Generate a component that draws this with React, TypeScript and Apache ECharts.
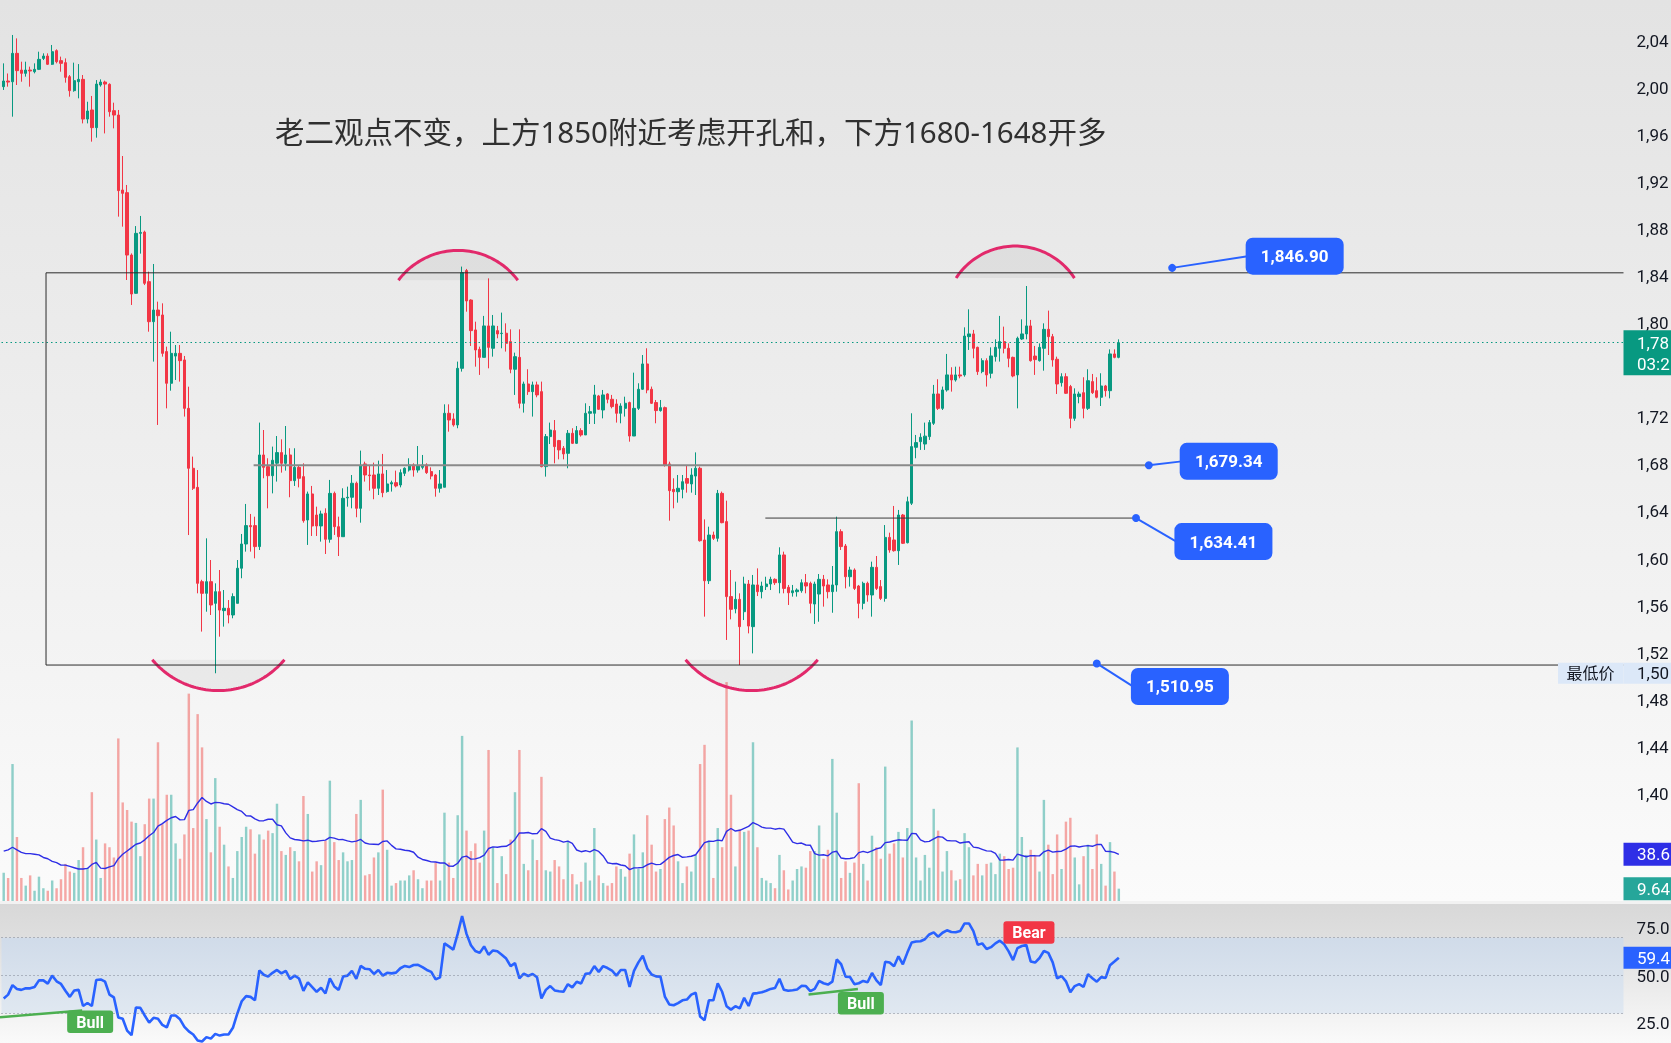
import React, { useEffect, useRef } from 'react';
import * as echarts from 'echarts';

// ---------------- DATA ----------------
const opens = [
  2000.8, 2005.6, 2005.0, 2029.1, 2014.9, 2012.1, 2014.9, 2013.5, 2015.5, 2024.8,
  2026.8, 2019.8, 2031.4, 2022.9, 2021.2, 2009.3, 1997.4, 2005.0, 2007.0, 1973.3,
  1981.0, 1966.0, 2002.2, 2004.7, 2002.8, 1980.4, 1976.7, 1913.0, 1910.8, 1857.8,
  1825.3, 1876.2, 1877.3, 1835.2, 1801.2, 1811.1, 1806.9, 1775.8, 1748.9, 1772.0,
  1774.3, 1768.7, 1727.6, 1676.7, 1660.5, 1580.4, 1570.5, 1580.4, 1562.0, 1571.9,
  1555.8, 1557.8, 1552.1, 1562.0, 1591.8, 1612.4, 1628.0, 1628.0, 1610.2, 1688.0,
  1678.1, 1670.4, 1681.0, 1690.0, 1680.9, 1688.0, 1666.2, 1677.5, 1669.6, 1632.8,
  1654.9, 1637.0, 1627.7, 1638.5, 1616.4, 1655.4, 1627.1, 1618.6, 1651.5, 1652.1,
  1664.0, 1642.7, 1680.4, 1671.0, 1671.0, 1659.7, 1671.9, 1656.9, 1663.4, 1664.5,
  1662.5, 1672.4, 1675.2, 1679.5, 1675.2, 1677.5, 1679.5, 1673.9, 1671.0, 1659.7,
  1660.6, 1723.4, 1718.6, 1713.5, 1761.6, 1844.6, 1819.6, 1794.2, 1777.7, 1770.9,
  1797.6, 1778.6, 1793.6, 1791.1, 1791.4, 1784.3, 1760.8, 1770.9, 1731.9, 1748.3,
  1741.8, 1747.5, 1741.8, 1678.1, 1703.6, 1708.7, 1700.2, 1693.7, 1689.4, 1706.4,
  1697.9, 1708.7, 1705.0, 1723.4, 1723.4, 1738.1, 1726.2, 1739.8, 1735.3, 1731.3,
  1723.4, 1727.6, 1732.5, 1704.1, 1727.6, 1743.8, 1765.3, 1743.8, 1732.5, 1725.7,
  1728.2, 1680.4, 1658.8, 1656.8, 1658.8, 1668.0, 1663.4, 1670.1, 1676.7, 1615.8,
  1581.2, 1620.0, 1617.2, 1655.4, 1631.4, 1567.7, 1557.3, 1565.4, 1554.9, 1578.4,
  1542.2, 1577.6, 1571.9, 1576.2, 1578.4, 1582.4, 1579.5, 1603.1, 1575.6, 1571.0,
  1571.9, 1572.7, 1579.5, 1579.0, 1561.4, 1569.9, 1582.4, 1577.6, 1571.9, 1577.6,
  1622.9, 1610.7, 1584.6, 1590.3, 1576.7, 1562.0, 1579.0, 1569.1, 1592.6, 1576.2,
  1566.2, 1618.0, 1615.8, 1606.7, 1637.0, 1613.5, 1647.0, 1694.5, 1699.3, 1697.3,
  1703.6, 1714.9, 1739.8, 1727.6, 1743.2, 1756.0, 1751.7, 1756.0, 1756.0, 1788.5,
  1790.8, 1779.4, 1758.8, 1768.1, 1757.4, 1771.5, 1778.6, 1784.3, 1778.6, 1770.9,
  1756.0, 1786.5, 1790.8, 1797.6, 1772.0, 1768.1, 1778.6, 1794.7, 1788.5, 1769.3,
  1749.4, 1754.5, 1746.1, 1719.1, 1737.6, 1740.9, 1727.6, 1750.3, 1742.6, 1737.0,
  1746.6, 1742.6, 1773.8, 1770.9,
];
const closes = [
  2005.6, 2004.7, 2029.1, 2014.4, 2012.1, 2014.9, 2014.1, 2015.5, 2024.0, 2026.8,
  2019.8, 2030.5, 2022.0, 2020.6, 2008.7, 1997.4, 2005.9, 2007.0, 1973.3, 1980.1,
  1966.0, 2003.0, 2004.7, 2003.0, 1979.5, 1976.7, 1912.5, 1910.2, 1857.8, 1824.7,
  1876.2, 1877.0, 1833.8, 1801.2, 1811.1, 1806.3, 1774.3, 1748.9, 1774.3, 1774.3,
  1768.1, 1727.6, 1676.7, 1659.7, 1579.0, 1570.5, 1580.4, 1560.6, 1571.9, 1556.3,
  1557.8, 1552.1, 1567.7, 1591.8, 1612.4, 1628.0, 1627.1, 1610.2, 1688.0, 1677.5,
  1670.4, 1683.5, 1690.0, 1680.9, 1688.0, 1666.2, 1677.5, 1668.2, 1632.2, 1654.9,
  1627.7, 1627.7, 1637.9, 1616.4, 1655.4, 1627.1, 1618.6, 1651.2, 1652.1, 1664.0,
  1642.7, 1678.7, 1671.0, 1670.4, 1659.7, 1671.9, 1656.0, 1663.4, 1664.5, 1661.7,
  1673.0, 1676.7, 1679.5, 1675.2, 1678.7, 1679.5, 1673.0, 1670.1, 1659.7, 1663.4,
  1723.4, 1717.7, 1713.5, 1761.6, 1842.9, 1818.8, 1793.6, 1777.2, 1770.9, 1797.6,
  1779.4, 1797.6, 1790.8, 1791.4, 1782.8, 1760.8, 1771.5, 1731.9, 1748.3, 1741.8,
  1747.5, 1739.0, 1678.1, 1703.6, 1709.2, 1695.1, 1692.3, 1688.9, 1706.4, 1697.9,
  1708.7, 1705.0, 1723.4, 1724.8, 1739.0, 1726.8, 1739.0, 1735.3, 1729.1, 1723.4,
  1729.6, 1731.9, 1704.1, 1727.6, 1743.8, 1765.3, 1743.2, 1731.9, 1725.7, 1728.2,
  1679.5, 1657.7, 1656.8, 1659.7, 1665.3, 1664.0, 1671.0, 1676.7, 1615.2, 1581.2,
  1620.0, 1617.2, 1655.4, 1630.5, 1567.7, 1556.9, 1565.4, 1542.2, 1578.4, 1542.7,
  1577.6, 1571.9, 1576.7, 1578.4, 1582.4, 1579.5, 1603.1, 1574.7, 1571.0, 1572.7,
  1573.3, 1579.5, 1576.7, 1562.0, 1578.4, 1582.4, 1576.7, 1571.9, 1577.6, 1622.9,
  1610.2, 1584.6, 1590.3, 1574.7, 1562.0, 1579.0, 1569.1, 1592.6, 1574.7, 1566.2,
  1618.0, 1607.3, 1606.7, 1637.0, 1613.0, 1648.3, 1695.1, 1698.5, 1703.0, 1704.0,
  1715.5, 1739.8, 1727.6, 1743.2, 1756.0, 1751.7, 1756.0, 1755.1, 1789.0, 1790.8,
  1778.6, 1758.8, 1768.1, 1756.0, 1772.1, 1779.4, 1784.3, 1778.6, 1770.1, 1755.1,
  1787.1, 1790.8, 1797.6, 1768.1, 1769.0, 1779.4, 1794.7, 1788.5, 1768.7, 1748.3,
  1754.5, 1740.4, 1719.1, 1739.8, 1739.8, 1727.6, 1751.1, 1740.9, 1737.0, 1746.6,
  1742.6, 1773.8, 1770.9, 1783.4,
];
const lows = [
  1998.0, 2000.8, 1975.3, 2002.2, 2005.0, 2009.3, 2000.8, 2012.1, 2014.9, 2023.4,
  2019.2, 2019.2, 2020.6, 2013.5, 2004.2, 1992.3, 1996.5, 1990.9, 1969.6, 1969.6,
  1954.1, 1957.5, 2000.8, 1961.1, 1975.3, 1965.4, 1890.4, 1881.9, 1836.6, 1815.4,
  1825.0, 1859.0, 1832.3, 1792.7, 1767.3, 1713.5, 1771.5, 1727.6, 1742.6, 1751.7,
  1750.3, 1720.6, 1620.0, 1658.3, 1570.5, 1538.0, 1554.9, 1552.1, 1502.6, 1533.7,
  1542.2, 1545.0, 1549.3, 1562.0, 1583.3, 1605.9, 1605.9, 1600.2, 1607.3, 1668.2,
  1642.7, 1655.4, 1665.4, 1673.0, 1674.7, 1652.1, 1661.7, 1660.5, 1630.5, 1611.6,
  1619.2, 1619.2, 1614.4, 1603.9, 1613.5, 1620.1, 1602.2, 1618.6, 1644.1, 1642.7,
  1635.1, 1630.5, 1665.4, 1657.7, 1650.4, 1654.0, 1652.1, 1656.0, 1656.9, 1660.5,
  1660.5, 1670.1, 1673.9, 1669.6, 1673.0, 1675.8, 1671.9, 1667.3, 1652.6, 1656.0,
  1660.6, 1707.8, 1712.1, 1710.7, 1758.8, 1809.7, 1780.6, 1763.0, 1756.0, 1770.9,
  1761.6, 1771.5, 1787.1, 1778.6, 1775.8, 1757.4, 1739.0, 1727.6, 1724.0, 1739.0,
  1720.6, 1737.0, 1677.5, 1669.6, 1697.3, 1680.9, 1684.3, 1684.3, 1676.7, 1697.3,
  1697.3, 1703.6, 1705.0, 1714.3, 1714.3, 1726.2, 1719.1, 1731.9, 1727.6, 1715.5,
  1714.9, 1720.6, 1699.3, 1704.1, 1726.2, 1743.2, 1740.4, 1731.3, 1714.9, 1724.8,
  1678.1, 1632.2, 1642.7, 1647.5, 1651.2, 1656.0, 1656.0, 1654.0, 1614.4, 1550.7,
  1578.4, 1615.8, 1614.4, 1630.0, 1530.9, 1548.4, 1553.5, 1509.6, 1547.8, 1536.5,
  1519.5, 1568.2, 1566.2, 1573.3, 1573.3, 1577.6, 1570.5, 1570.5, 1560.6, 1567.7,
  1567.7, 1571.0, 1570.5, 1553.5, 1544.5, 1546.4, 1559.2, 1566.2, 1554.0, 1571.9,
  1607.3, 1574.7, 1576.2, 1573.3, 1549.3, 1556.9, 1563.4, 1550.7, 1573.3, 1564.8,
  1563.4, 1605.0, 1605.9, 1594.6, 1612.4, 1612.9, 1645.5, 1685.2, 1692.3, 1692.3,
  1700.8, 1713.5, 1726.2, 1726.2, 1741.8, 1741.8, 1750.3, 1753.1, 1754.5, 1777.2,
  1770.1, 1756.0, 1757.4, 1746.1, 1753.1, 1767.3, 1767.3, 1774.3, 1762.5, 1754.0,
  1727.6, 1785.7, 1786.2, 1767.3, 1756.0, 1767.3, 1759.6, 1772.9, 1763.0, 1739.8,
  1746.1, 1739.8, 1710.7, 1717.0, 1731.9, 1719.1, 1726.2, 1739.8, 1736.1, 1729.6,
  1737.6, 1736.1, 1770.1, 1770.1,
];
const highs = [
  2020.6, 2012.0, 2044.7, 2041.8, 2022.0, 2022.0, 2017.8, 2020.6, 2030.5, 2029.1,
  2029.1, 2036.2, 2032.5, 2026.3, 2024.8, 2010.7, 2021.2, 2020.0, 2010.7, 1988.0,
  1992.9, 2006.4, 2007.0, 2005.9, 2003.6, 1987.2, 1981.0, 1941.9, 1917.3, 1859.2,
  1882.4, 1891.0, 1878.5, 1843.7, 1850.2, 1818.2, 1816.8, 1780.0, 1792.7, 1781.4,
  1781.4, 1772.1, 1746.0, 1686.6, 1675.2, 1582.0, 1617.2, 1598.8, 1579.0, 1590.3,
  1573.3, 1564.8, 1570.5, 1598.8, 1620.9, 1646.4, 1637.9, 1635.6, 1715.5, 1709.2,
  1685.2, 1695.1, 1704.1, 1701.3, 1712.6, 1693.7, 1693.7, 1678.7, 1680.9, 1656.9,
  1661.7, 1644.1, 1640.7, 1642.7, 1666.8, 1656.9, 1635.6, 1659.7, 1661.1, 1671.0,
  1665.4, 1691.7, 1682.3, 1678.7, 1681.5, 1683.2, 1688.9, 1675.2, 1666.2, 1674.7,
  1675.8, 1677.5, 1685.2, 1680.9, 1695.6, 1688.0, 1680.9, 1677.5, 1671.9, 1675.2,
  1731.0, 1731.0, 1723.4, 1767.3, 1848.0, 1846.0, 1820.2, 1801.2, 1780.0, 1806.1,
  1838.0, 1806.9, 1797.6, 1808.9, 1799.8, 1794.7, 1774.9, 1794.7, 1750.3, 1760.8,
  1750.3, 1750.3, 1750.3, 1705.8, 1715.5, 1717.7, 1700.8, 1695.6, 1709.2, 1710.7,
  1712.6, 1710.7, 1731.9, 1729.6, 1747.5, 1739.0, 1743.2, 1740.4, 1739.0, 1735.3,
  1731.9, 1737.5, 1733.3, 1757.9, 1748.9, 1772.9, 1778.6, 1746.1, 1734.7, 1734.7,
  1729.1, 1682.3, 1668.2, 1671.0, 1671.0, 1679.5, 1676.7, 1690.2, 1678.1, 1633.3,
  1627.1, 1622.9, 1658.3, 1656.9, 1649.2, 1590.3, 1580.4, 1570.5, 1584.6, 1581.8,
  1586.1, 1591.7, 1580.4, 1584.6, 1584.6, 1583.2, 1609.6, 1605.9, 1577.6, 1577.6,
  1574.7, 1582.4, 1586.9, 1580.4, 1580.4, 1586.9, 1586.1, 1582.4, 1593.7, 1635.6,
  1624.9, 1612.4, 1593.1, 1591.7, 1577.6, 1580.4, 1580.4, 1597.4, 1602.2, 1581.8,
  1628.5, 1622.0, 1644.7, 1641.3, 1637.9, 1652.6, 1723.4, 1705.0, 1706.4, 1715.5,
  1717.7, 1747.5, 1752.3, 1746.1, 1773.8, 1762.5, 1763.0, 1763.0, 1796.4, 1811.7,
  1794.2, 1780.0, 1770.1, 1770.1, 1779.4, 1786.2, 1806.1, 1797.0, 1782.8, 1771.5,
  1788.5, 1803.2, 1831.5, 1802.7, 1780.6, 1782.8, 1799.8, 1810.6, 1790.8, 1771.5,
  1757.4, 1757.4, 1747.5, 1744.6, 1741.8, 1754.0, 1760.8, 1756.8, 1754.0, 1757.4,
  1747.5, 1777.7, 1777.7, 1786.2,
];
const volumes = [
  22, 18, 107, 50, 18, 12, 20, 8, 19, 10,
  8, 16, 10, 17, 29, 23, 22, 32, 42, 26,
  85, 48, 18, 45, 42, 34, 127, 77, 71, 62,
  61, 35, 60, 80, 80, 124, 60, 83, 83, 45,
  33, 52, 162, 57, 146, 120, 64, 38, 96, 58,
  44, 27, 18, 39, 50, 58, 56, 37, 52, 48,
  55, 53, 76, 39, 36, 42, 39, 31, 82, 68,
  23, 31, 28, 47, 94, 46, 32, 38, 31, 32,
  68, 79, 20, 21, 34, 38, 87, 40, 12, 14,
  16, 16, 20, 24, 17, 10, 16, 16, 30, 16,
  69, 30, 18, 67, 129, 55, 39, 45, 30, 55,
  118, 42, 14, 35, 21, 48, 85, 118, 29, 24,
  48, 32, 97, 24, 23, 32, 27, 17, 47, 21,
  13, 15, 30, 16, 57, 20, 14, 12, 14, 27,
  25, 19, 37, 52, 25, 38, 67, 44, 23, 25,
  64, 73, 59, 31, 14, 27, 23, 36, 107, 122,
  47, 18, 57, 42, 171, 83, 27, 56, 54, 55,
  124, 42, 18, 16, 14, 10, 36, 24, 9, 16,
  25, 27, 26, 39, 39, 59, 33, 40, 111, 69,
  18, 31, 22, 30, 92, 29, 16, 51, 42, 33,
  105, 37, 45, 54, 34, 57, 141, 34, 16, 36,
  26, 72, 55, 23, 39, 24, 16, 17, 53, 42,
  20, 29, 20, 29, 30, 21, 37, 35, 25, 26,
  120, 50, 36, 40, 36, 23, 79, 44, 21, 52,
  25, 62, 65, 34, 13, 35, 44, 25, 52, 29,
  12, 46, 23, 9.64,
];
// volume MA values for the first bars (window not yet full)
const volumeMAHead = [39, 40, 42, 40, 38, 37, 37, 36.5, 36, 34, 33, 31, 30, 28, 28, 27, 26, 25, 25];
const rsiValues = [
  38, 40, 45, 43, 42.5, 43.3, 43.3, 44, 47.5, 47.5,
  45.8, 50, 47, 45.6, 42, 38.8, 42.2, 42.5, 34, 35.6,
  34, 47.7, 48, 46.8, 40, 38.5, 28, 27.3, 21, 18.6,
  33.2, 33, 29, 25.2, 27.8, 27.3, 24, 22.7, 29, 29,
  27, 23, 20.6, 19, 15.8, 15.3, 17.6, 16.8, 19.3, 18.4,
  19, 19, 22.5, 30, 36.5, 39.2, 38.8, 37, 52.7, 50.5,
  49.5, 51.5, 53, 51.2, 52.5, 48.2, 50, 48.5, 42, 46.5,
  44, 41.5, 43.6, 40.6, 48.5, 44.3, 42.5, 49.5, 50, 52.5,
  48.3, 55.1, 53.6, 53.4, 50.9, 53, 50, 51.5, 51.2, 51.6,
  53.9, 55.1, 54.5, 55.6, 55.7, 54.5, 53, 52, 48, 49.1,
  67, 65.4, 63.7, 72, 81.4, 72, 66, 63, 62, 65.4,
  61, 63.3, 62.8, 61, 59, 55, 56.6, 48.5, 51, 49.8,
  50.9, 49.1, 38, 42.5, 44.5, 42.2, 41.8, 41.5, 45.5, 43.8,
  46.8, 45.9, 51, 51.2, 55, 52, 55, 54, 52.7, 50,
  53, 53, 44, 52.5, 57, 60.5, 53.8, 50.6, 49.6, 49.5,
  39, 34.8, 34.4, 35.5, 37, 37.4, 40, 41, 28.5, 26.5,
  37, 37, 45.9, 41.5, 33.9, 32.1, 33.9, 32.7, 38.3, 34,
  40.5, 40.8, 41.2, 42, 43, 43.5, 48.3, 42.6, 42, 42.3,
  42.7, 44.6, 44.5, 41.8, 43, 47.2, 46, 45.3, 46.8, 58.5,
  56, 49.5, 49.3, 45.5, 46, 47.2, 46.5, 51.4, 47.5, 45,
  57.3, 56.9, 54.9, 60.2, 56, 62, 67.5, 68, 68.1, 69.2,
  71.7, 72.8, 70.5, 72.6, 73.9, 73, 72.9, 73.5, 77.5, 77.5,
  73.5, 66.2, 67, 64, 65, 67, 68.4, 66.5, 62.8, 58.2,
  64.5, 65.6, 66.2, 57.5, 56.9, 59.3, 63, 62, 57, 48.6,
  49.8, 47, 41.3, 44.5, 45.5, 44.1, 50.8, 48.6, 46.8, 49.2,
  48.8, 55.5, 57.4, 59.4,
];
// price-scale ticks that are visible (1760/1360/1320 sit under the scale badges)
const priceTicks = [2040, 2000, 1960, 1920, 1880, 1840, 1800, 1720, 1680, 1640, 1600, 1560, 1520, 1480, 1440, 1400];
const rsiTicks = [25, 50, 75];
const rsiLevels = [70, 50, 30];
const calloutPrices = [1846.9, 1679.34, 1634.41, 1510.95];
const titleText = '老二观点不变，上方1850附近考虑开孔和，下方1680-1648开多';
const volumeMALabel = '38.6';
const volumeLabel = '9.64';
const countdownText = '03:2';
const lowLabelText = '最低价';
// the reference is cropped at its right edge: scale texts show their first 4 characters
const SCALE_CHARS = 4;

// ---------------- LAYOUT / STYLE ----------------
const W = 1671;
const H = 1043;
const SLOTS = 368;
const GRID_LEFT = 1.5;
const GRID_W = 1622;
const PRICE_MIN = 1309.2;
const PRICE_MAX = 2074.4;
const UP = '#089981';
const DOWN = '#f23645';
const BLUE = '#2962ff';
const CJK = "'Noto Sans', 'Noto Sans CJK SC', sans-serif";

// annotation anchors (slot index, price)
const rectSpec = { leftIdx: 9.6, top: 1842.7, bottom: 1509.6 };
const hLines = [
  { price: 1679.34, from: 56.7, to: 259.8, color: '#8a8a8a', width: 2 },
  { price: 1634.41, from: 172.8, to: 256.9, color: '#3a3a3a', width: 1 },
];
const callouts = [
  { idx: 265.1, dx: 73.5, dy: -11.7 },
  { idx: 259.8, dx: 30.9, dy: -3.8 },
  { idx: 256.9, dx: 38.4, dy: 23.5 },
  { idx: 248.0, dx: 34.1, dy: 23.0 },
];
const arcs = [
  { idx: 103.1, price: 1798.4, r: 74.6, a0: -2.498, a1: -0.6435 },
  { idx: 229.5, price: 1805.4, r: 70.7, a0: -2.562, a1: -0.579 },
  { idx: 48.7, price: 1561.0, r: 86.1, a0: 0.6962, a1: 2.4454 },
  { idx: 169.7, price: 1561.0, r: 86.1, a0: 0.6962, a1: 2.4454 },
];
const divergences = [
  { kind: 'Bull', from: [-0.84, 28.1], to: [17.8, 31.6], boxDx: -15, boxDy: 0 },
  { kind: 'Bull', from: [182.6, 40.0], to: [193.8, 43.0], boxDx: -20, boxDy: 3 },
];
const bearMark = { idx: 226.3, value: 68.4 };

const fmt = (v: number) => v.toLocaleString('en-US', { minimumFractionDigits: 2, maximumFractionDigits: 2 });
const scaleText = (s: string) => s.slice(0, SCALE_CHARS);

export default function App() {
  const ref = useRef<HTMLDivElement>(null);

  useEffect(() => {
    const el = ref.current;
    if (!el) return;
    const chart = echarts.init(el, null, { renderer: 'svg' });
    const n = opens.length;
    const slots = Array.from({ length: SLOTS }, (_, i) => String(i));
    const candleData = opens.map((o, i) => [o, closes[i], lows[i], highs[i]]);
    const volData = volumes.map((v, i) => ({
      value: v,
      itemStyle: { color: closes[i] >= opens[i] ? 'rgba(38,166,154,0.5)' : 'rgba(239,83,80,0.5)' },
    }));
    const volMA = volumes.map((_, i) => {
      if (i < volumeMAHead.length) return volumeMAHead[i];
      let s = 0;
      for (let k = i - 19; k <= i; k++) s += volumes[k];
      return +(s / 20).toFixed(2);
    });
    const lastClose = closes[n - 1];
    const minLow = Math.min(...lows);

    const gridBase = { left: GRID_LEFT, width: GRID_W, containLabel: false, outerBoundsMode: 'none' };
    const axisLabelBase = {
      margin: 13,
      fontSize: 17,
      color: '#131722',
      fontFamily: 'Roboto',
      align: 'left',
    };

    const option: any = {
      animation: false,
      backgroundColor: 'transparent',
      textStyle: { fontFamily: 'Roboto' },
      grid: [
        { ...gridBase, top: 0, height: 901 },
        { ...gridBase, top: 645, height: 256 },
        { ...gridBase, top: 904, height: 139 },
      ],
      xAxis: [0, 1, 2].map((g) => ({
        type: 'category',
        gridIndex: g,
        data: slots,
        boundaryGap: true,
        axisLine: { show: false },
        axisTick: { show: false },
        axisLabel: { show: false },
        splitLine: { show: false },
      })),
      yAxis: [
        {
          gridIndex: 0,
          type: 'value',
          position: 'right',
          min: PRICE_MIN,
          max: PRICE_MAX,
          z: 5,
          axisLine: { show: false },
          axisTick: { show: false },
          splitLine: { show: false },
          axisLabel: { ...axisLabelBase, customValues: priceTicks, formatter: (v: number) => scaleText(fmt(v)) },
        },
        { gridIndex: 1, type: 'value', min: 0, max: 200, show: false, splitLine: { show: false } },
        {
          gridIndex: 2,
          type: 'value',
          position: 'right',
          min: 14.5,
          max: 87.75,
          z: 5,
          axisLine: { show: false },
          axisTick: { show: false },
          splitLine: { show: false },
          axisLabel: { ...axisLabelBase, customValues: rsiTicks, formatter: (v: number) => scaleText(v.toFixed(2)) },
        },
      ],
      series: [
        {
          type: 'bar',
          name: 'volume',
          xAxisIndex: 1,
          yAxisIndex: 1,
          data: volData,
          barWidth: '55%',
          z: 1,
        },
        {
          type: 'line',
          name: 'volumeMA',
          xAxisIndex: 1,
          yAxisIndex: 1,
          data: volMA,
          symbol: 'none',
          lineStyle: { color: '#2e2ee6', width: 1.4 },
          z: 2,
        },
        {
          type: 'candlestick',
          name: 'price',
          xAxisIndex: 0,
          yAxisIndex: 0,
          data: candleData,
          barWidth: '64%',
          itemStyle: { color: UP, color0: DOWN, borderColor: UP, borderColor0: DOWN, borderWidth: 1 },
          z: 4,
          markLine: {
            silent: true,
            symbol: 'none',
            label: { show: false },
            lineStyle: { color: UP, type: [1.5, 3], width: 1 },
            data: [{ yAxis: lastClose }],
          },
        },
        {
          type: 'line',
          name: 'RSI',
          xAxisIndex: 2,
          yAxisIndex: 2,
          data: rsiValues,
          symbol: 'none',
          lineStyle: { color: BLUE, width: 2.6 },
          z: 4,
          markArea: {
            silent: true,
            itemStyle: {
              color: new echarts.graphic.LinearGradient(0, 0, 0, 1, [
                { offset: 0, color: '#d0dbe9' },
                { offset: 1, color: '#e0e8f1' },
              ]),
            },
            data: [[{ yAxis: 70 }, { yAxis: 30 }]],
          },
          markLine: {
            silent: true,
            symbol: 'none',
            label: { show: false },
            lineStyle: { color: '#7d8290', type: [1, 3], width: 1 },
            data: rsiLevels.map((v) => ({ yAxis: v })),
          },
        },
      ],
    };
    chart.setOption(option);

    const px = (g: number, i: number, v: number) => {
      let i0 = Math.floor(i);
      if (i0 < 0) i0 = 0;
      if (i0 > SLOTS - 2) i0 = SLOTS - 2;
      const f = i - i0;
      const a = chart.convertToPixel({ gridIndex: g } as any, [i0, v]) as number[];
      const b = chart.convertToPixel({ gridIndex: g } as any, [i0 + 1, v]) as number[];
      return [a[0] + (b[0] - a[0]) * f, a[1]];
    };
    const gridRight = GRID_LEFT + GRID_W;

    const txt = (x: number, y: number, text: string, o: any = {}) => ({
      type: 'text',
      z: o.z ?? 60,
      style: {
        x,
        y,
        text,
        fill: o.fill ?? '#ffffff',
        fontSize: o.fontSize ?? 17,
        fontFamily: o.fontFamily ?? 'Roboto',
        fontWeight: o.fontWeight ?? 'normal',
        align: o.align ?? 'left',
        verticalAlign: 'middle',
        textAlign: o.align ?? 'left',
        textVerticalAlign: 'middle',
      },
    });
    const box = (x: number, y: number, w: number, h: number, fill: string, r = 0, z = 55) => ({
      type: 'rect',
      z,
      shape: { x, y, width: w, height: h, r },
      style: { fill },
    });

    const g: any[] = [];
    // pane backgrounds
    g.push({
      type: 'rect',
      z: -10,
      shape: { x: 0, y: 0, width: W, height: 901 },
      style: {
        fill: new echarts.graphic.LinearGradient(0, 0, 0, 1, [
          { offset: 0, color: '#e3e3e3' },
          { offset: 0.4, color: '#ececec' },
          { offset: 0.75, color: '#f4f4f4' },
          { offset: 1, color: '#fbfbfb' },
        ]),
      },
    });
    g.push({ type: 'rect', z: -10, shape: { x: 0, y: 901, width: W, height: 3 }, style: { fill: '#f2f2f2' } });
    g.push({
      type: 'rect',
      z: -10,
      shape: { x: 0, y: 904, width: W, height: H - 904 },
      style: {
        fill: new echarts.graphic.LinearGradient(0, 0, 0, 1, [
          { offset: 0, color: '#d8d8d8' },
          { offset: 0.3, color: '#e0e0e0' },
          { offset: 1, color: '#fafafa' },
        ]),
      },
    });

    // rectangle drawing
    const rTop = px(0, rectSpec.leftIdx, rectSpec.top);
    const rBot = px(0, rectSpec.leftIdx, rectSpec.bottom);
    g.push({
      type: 'polyline',
      z: 20,
      shape: { points: [[gridRight, rTop[1]], [rTop[0], rTop[1]], [rBot[0], rBot[1]], [gridRight, rBot[1]]] },
      style: { stroke: '#2b2b2b', lineWidth: 1, fill: null },
    });

    // horizontal lines
    hLines.forEach((l) => {
      const a = px(0, l.from, l.price);
      const b = px(0, l.to, l.price);
      g.push({
        type: 'line',
        z: 20,
        shape: { x1: a[0], y1: a[1], x2: b[0], y2: b[1] },
        style: { stroke: l.color, lineWidth: l.width },
      });
    });

    // arcs
    arcs.forEach((a) => {
      const c = px(0, a.idx, a.price);
      const pts: number[][] = [];
      for (let k = 0; k <= 60; k++) {
        const t = a.a0 + ((a.a1 - a.a0) * k) / 60;
        pts.push([c[0] + a.r * Math.cos(t), c[1] + a.r * Math.sin(t)]);
      }
      g.push({ type: 'polygon', z: 18, shape: { points: pts }, style: { fill: 'rgba(0,0,0,0.045)' } });
      g.push({ type: 'polyline', z: 19, shape: { points: pts }, style: { stroke: '#e2296b', lineWidth: 3, fill: null } });
    });

    // callouts
    callouts.forEach((c, k) => {
      const price = calloutPrices[k];
      const d = px(0, c.idx, price);
      const bx = d[0] + c.dx;
      const by = d[1] + c.dy;
      g.push({ type: 'line', z: 50, shape: { x1: d[0], y1: d[1], x2: bx + 2, y2: by }, style: { stroke: BLUE, lineWidth: 2 } });
      g.push({ type: 'circle', z: 51, shape: { cx: d[0], cy: d[1], r: 4 }, style: { fill: BLUE } });
      g.push(box(bx, by - 18.5, 98, 37, BLUE, 7, 52));
      g.push(txt(bx + 49, by, fmt(price), { align: 'center', fontWeight: 'bold', fontSize: 17, z: 53 }));
    });

    // title
    g.push(txt(275, 131, titleText, { fill: '#303030', fontSize: 29.5, fontFamily: CJK, z: 40 }));

    // current price badge
    const cp = px(0, n - 1, lastClose);
    g.push(box(gridRight, cp[1] - 12.5, W - gridRight, 45, UP, 0, 55));
    g.push(txt(1637, cp[1], scaleText(fmt(lastClose)), { z: 56 }));
    g.push(txt(1637, cp[1] + 21, countdownText, { z: 56 }));

    // lowest price badge
    const lp = px(0, 0, minLow);
    g.push(box(1558, lp[1] - 10.5, gridRight - 1558, 21, '#dce8f8', 0, 55));
    g.push(txt(1590.5, lp[1], lowLabelText, { fill: '#131722', fontSize: 16, fontFamily: CJK, align: 'center', z: 56 }));
    g.push(box(gridRight, lp[1] - 10.5, W - gridRight, 21, '#dce8f8', 0, 55));
    g.push(txt(1637, lp[1], scaleText(fmt(minLow)), { fill: '#131722', z: 56 }));

    // volume badges
    const vm = px(1, n - 1, volMA[n - 1]);
    g.push(box(gridRight, vm[1] - 11.5, W - gridRight, 23, '#2e2ee6', 0, 55));
    g.push(txt(1637, vm[1], volumeMALabel, { z: 56 }));
    const vv = px(1, n - 1, volumes[n - 1]);
    g.push(box(gridRight, vv[1] - 11.5, W - gridRight, 23, '#26a69a', 0, 55));
    g.push(txt(1637, vv[1], volumeLabel, { z: 56 }));

    // RSI badge
    const rv = px(2, n - 1, rsiValues[n - 1]);
    g.push(box(gridRight, rv[1] - 11, W - gridRight, 22, BLUE, 0, 55));
    g.push(txt(1637, rv[1], scaleText(rsiValues[n - 1].toFixed(2)), { z: 56 }));

    // divergence marks
    divergences.forEach((dv) => {
      const a = px(2, dv.from[0], dv.from[1]);
      const b = px(2, dv.to[0], dv.to[1]);
      g.push({ type: 'line', z: 45, shape: { x1: a[0], y1: a[1], x2: b[0], y2: b[1] }, style: { stroke: '#4caf50', lineWidth: 2.5 } });
      const bx = b[0] + dv.boxDx;
      const by = b[1] + dv.boxDy;
      g.push(box(bx, by, 46, 22.5, '#4caf50', 3, 46));
      g.push(txt(bx + 23, by + 11.5, dv.kind, { align: 'center', fontWeight: 'bold', fontSize: 16, z: 47 }));
    });
    const bp = px(2, bearMark.idx, bearMark.value);
    g.push(box(bp[0] + 2.3, bp[1] - 19.5, 51, 22.5, DOWN, 3, 46));
    g.push(txt(bp[0] + 27.8, bp[1] - 8.2, 'Bear', { align: 'center', fontWeight: 'bold', fontSize: 16, z: 47 }));

    chart.setOption({ graphic: { elements: g } });

    return () => {
      chart.dispose();
    };
  }, []);

  return <div ref={ref} style={{ position: 'fixed', left: 0, top: 0, width: W, height: H }} />;
}
